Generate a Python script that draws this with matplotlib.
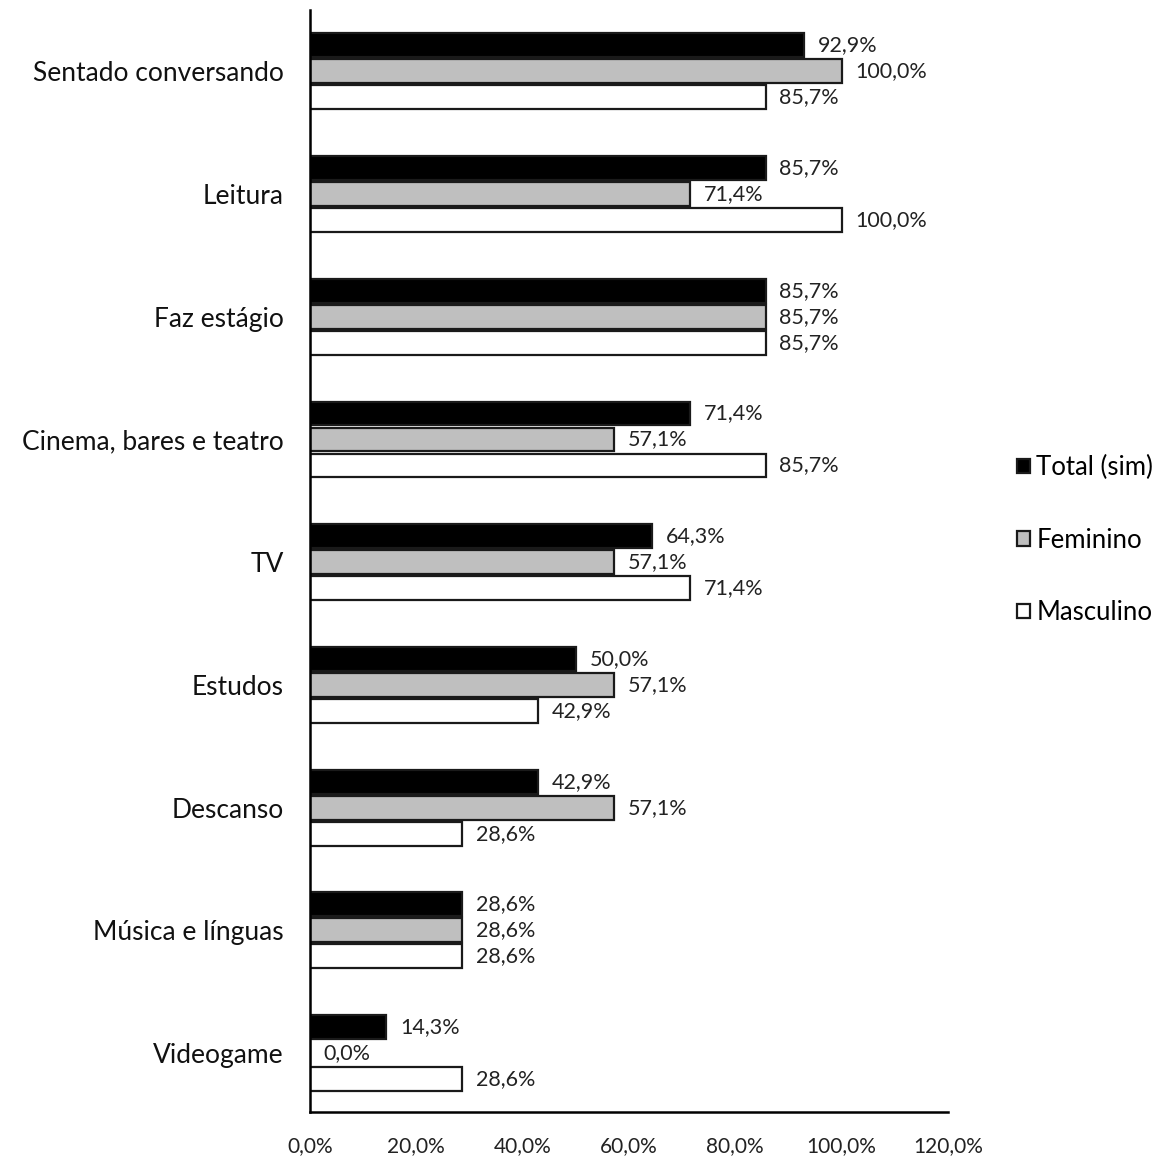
import matplotlib.pyplot as plt
import numpy as np

plt.rcParams['font.family'] = ['Lato', 'DejaVu Sans']

# data
categorias = ["Sentado conversando", "Leitura", "Faz estágio", "Cinema, bares e teatro",
              "TV", "Estudos", "Descanso", "Música e línguas", "Videogame"]
total = [92.9, 85.7, 85.7, 71.4, 64.3, 50.0, 42.9, 28.6, 14.3]
feminino = [100.0, 71.4, 85.7, 57.1, 57.1, 57.1, 57.1, 28.6, 0.0]
masculino = [85.7, 100.0, 85.7, 85.7, 71.4, 42.9, 28.6, 28.6, 28.6]
x_ticks = [0, 20, 40, 60, 80, 100, 120]

def fmt(v):
    return f"{v:.1f}%".replace('.', ',')

fig = plt.figure(figsize=(11.68, 11.58), dpi=100)
ax = fig.add_axes([0.2654, 0.0397, 0.5462, 0.9517])

y = np.arange(len(categorias))
h = 0.195
off = 0.212
series = [(total, 'black', -off, 'Total (sim)'),
          (feminino, '#bfbfbf', 0, 'Feminino'),
          (masculino, 'white', off, 'Masculino')]

handles = []
for vals, cor, d, nome in series:
    bars = ax.barh(y + d, vals, height=h, color=cor, edgecolor='#1a1a1a', linewidth=1.6, label=nome)
    handles.append(bars)
    for yy, v in zip(y + d, vals):
        ax.text(v + 2.6, yy, fmt(v), va='center', ha='left', fontsize=15.5, color='#222222')

ax.set_ylim(8.48, -0.5)
ax.set_xlim(0, 120)
ax.set_yticks(y)
ax.set_yticklabels(categorias, fontsize=19, color='#111111')
ax.set_xticks(x_ticks)
ax.set_xticklabels([fmt(t) for t in x_ticks], fontsize=15, color='#222222')
ax.tick_params(axis='both', length=0)
ax.tick_params(axis='y', pad=19)
ax.tick_params(axis='x', pad=17)
for s in ['top', 'right']:
    ax.spines[s].set_visible(False)
ax.spines['left'].set_linewidth(1.8)
ax.spines['bottom'].set_linewidth(1.8)

leg = fig.legend(handles=handles, loc='center left', bbox_to_anchor=(0.851, 0.5335),
                 frameon=False, fontsize=18.5, handlelength=0.5, handleheight=0.5,
                 handletextpad=0.25, labelspacing=1.85)

fig.savefig('out.png', dpi=100)
